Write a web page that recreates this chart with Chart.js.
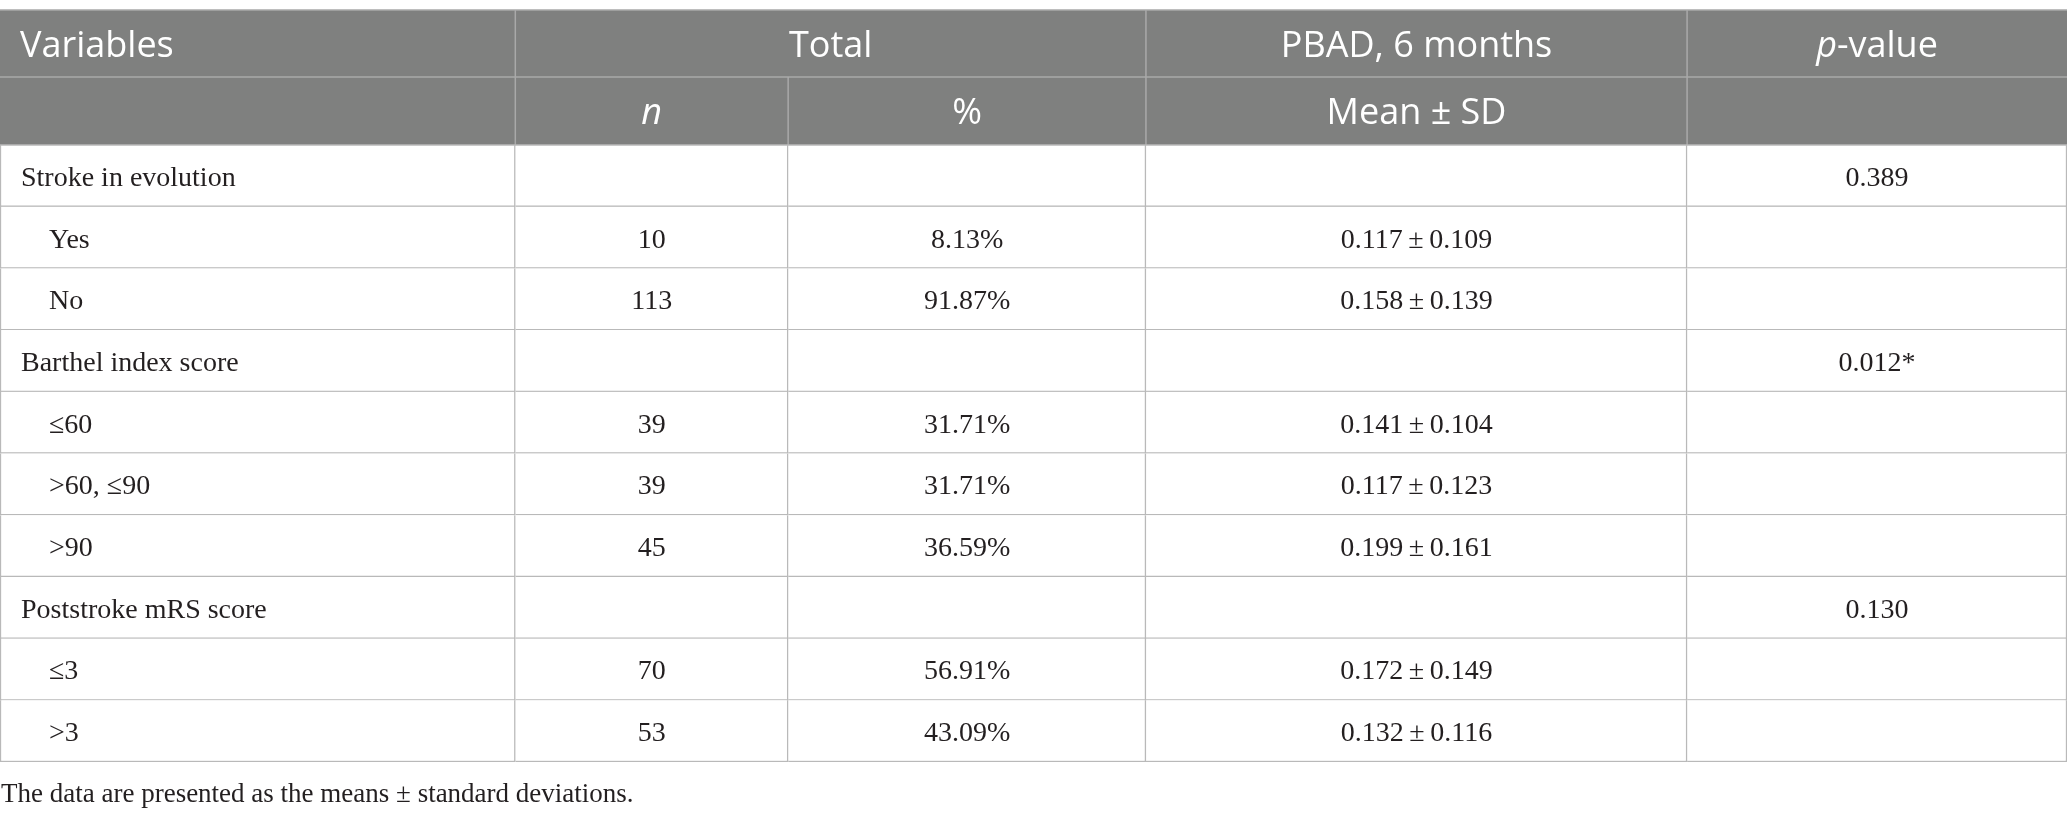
<!DOCTYPE html>
<html>
<head>
<meta charset="utf-8">
<script src="https://cdn.jsdelivr.net/npm/chart.js@4.4.1/dist/chart.umd.min.js"></script>
<style>
  html, body { margin: 0; padding: 0; background: #fff; }
  #wrap { width: 2067px; height: 818px; }
</style>
</head>
<body>
<div id="wrap"><canvas id="tbl" width="2067" height="818"></canvas></div>
<script>
// --- Table data ---
const variables = ['Stroke in evolution', 'Yes', 'No', 'Barthel index score', '≤60', '>60, ≤90', '>90',
                   'Poststroke mRS score', '≤3', '>3'];
const rowLevel = [0, 1, 1, 0, 1, 1, 1, 0, 1, 1];
const nValues = [null, 10, 113, null, 39, 39, 45, null, 70, 53];
const pctValues = [null, 8.13, 91.87, null, 31.71, 31.71, 36.59, null, 56.91, 43.09];
const pbadMean = [null, 0.117, 0.158, null, 0.141, 0.117, 0.199, null, 0.172, 0.132];
const pbadSD = [null, 0.109, 0.139, null, 0.104, 0.123, 0.161, null, 0.149, 0.116];
const pValueLabels = ['0.389', null, null, '0.012*', null, null, null, '0.130', null, null];
const headerTop = ['Variables', 'Total', 'PBAD, 6 months', 'p-value'];
const headerSub = ['', 'n', '%', 'Mean ± SD', ''];
const footnote = 'The data are presented as the means ± standard deviations.';

// layout (percent of table width), not data
const colEdges = [0, 24.93, 38.13, 55.44, 81.62, 100];
const HEAD_BG = '#7f807f';
const HEAD_LINE = '#a9a9a9';
const GRID = '#b9b9b9';
const TEXT = '#231f20';
const HEAD_FONT = '"Open Sans", sans-serif';
const BODY_FONT = '"Liberation Serif", serif';
const HEAD_SIZE = 36;
const BODY_SIZE = 28;
const NOTE_SIZE = 27;
const HEAD_H1 = 67, HEAD_H2 = 68;

const fmt = (v, d) => v == null ? '' : v.toFixed(d);
const cellText = [
  variables,
  nValues.map(v => v == null ? '' : String(v)),
  pctValues.map(v => v == null ? '' : v.toFixed(2) + '%'),
  pbadMean.map((m, i) => m == null ? '' : fmt(m, 3) + '\u2009±\u2009' + fmt(pbadSD[i], 3)),
  pValueLabels.map(v => v || '')
];

// draw mixed italic/regular runs centred (or left) at x
function drawRuns(ctx, runs, x, y, align) {
  let total = 0;
  runs.forEach(r => { ctx.font = r.font; r.w = ctx.measureText(r.text).width; total += r.w; });
  let cx = align === 'left' ? x : x - total / 2;
  ctx.textAlign = 'left';
  runs.forEach(r => { ctx.font = r.font; ctx.fillText(r.text, cx, y); cx += r.w; });
}

const tablePlugin = {
  id: 'tablePlugin',
  afterDatasetsDraw(chart) {
    const { ctx, chartArea, scales: { x, y } } = chart;
    const px = i => x.getPixelForValue(colEdges[i]);
    const top = chartArea.top - HEAD_H1 - HEAD_H2;
    const mid = top + HEAD_H1;
    ctx.save();

    // header block
    ctx.fillStyle = HEAD_BG;
    ctx.fillRect(px(0), top, px(5) - px(0), chartArea.top - top);
    ctx.strokeStyle = HEAD_LINE;
    ctx.lineWidth = 1.5;
    ctx.beginPath();
    ctx.moveTo(px(0), top); ctx.lineTo(px(5), top);
    ctx.moveTo(px(0), mid); ctx.lineTo(px(5), mid);
    [1, 3, 4].forEach(i => { ctx.moveTo(px(i), top); ctx.lineTo(px(i), chartArea.top); });
    ctx.moveTo(px(2), mid); ctx.lineTo(px(2), chartArea.top);
    ctx.stroke();
    ctx.strokeStyle = GRID;
    ctx.beginPath();
    ctx.moveTo(px(0), chartArea.top); ctx.lineTo(px(5), chartArea.top);
    ctx.stroke();

    // header text
    ctx.fillStyle = '#ffffff';
    ctx.textBaseline = 'alphabetic';
    const hReg = HEAD_SIZE + 'px ' + HEAD_FONT;
    const hIt = 'italic ' + HEAD_SIZE + 'px ' + HEAD_FONT;
    const y1 = top + 47, y2 = mid + 47;
    drawRuns(ctx, [{ text: headerTop[0], font: hReg }], px(0) + 20, y1, 'left');
    drawRuns(ctx, [{ text: headerTop[1], font: hReg }], (px(1) + px(3)) / 2, y1);
    drawRuns(ctx, [{ text: headerTop[2], font: hReg }], (px(3) + px(4)) / 2, y1);
    drawRuns(ctx, [{ text: 'p', font: hIt }, { text: headerTop[3].slice(1), font: hReg }], (px(4) + px(5)) / 2, y1);
    drawRuns(ctx, [{ text: headerSub[1], font: hIt }], (px(1) + px(2)) / 2, y2);
    drawRuns(ctx, [{ text: headerSub[2], font: hReg }], (px(2) + px(3)) / 2, y2);
    drawRuns(ctx, [{ text: headerSub[3], font: hReg }], (px(3) + px(4)) / 2, y2);

    // body text
    ctx.fillStyle = TEXT;
    ctx.font = BODY_SIZE + 'px ' + BODY_FONT;
    variables.forEach((v, r) => {
      const cy = y.getPixelForValue(r) + 10;
      ctx.textAlign = 'left';
      ctx.fillText(cellText[0][r], px(0) + (rowLevel[r] ? 49 : 21), cy);
      ctx.textAlign = 'center';
      for (let c = 1; c < 5; c++) {
        ctx.fillText(cellText[c][r], (px(c) + px(c + 1)) / 2, cy);
      }
    });

    // footnote
    ctx.textAlign = 'left';
    ctx.font = NOTE_SIZE + 'px ' + BODY_FONT;
    ctx.fillText(footnote, px(0) + 1, chartArea.bottom + 40);
    ctx.restore();
  }
};

const datasets = colEdges.slice(0, -1).map((e, ci) => ({
  label: 'col' + ci,
  data: variables.map(() => [colEdges[ci], colEdges[ci + 1]]),
  backgroundColor: '#ffffff',
  borderColor: GRID,
  borderWidth: { top: 0, right: 1.5, bottom: 1.5, left: ci === 0 ? 1.5 : 0 },
  borderSkipped: false,
  barPercentage: 1,
  categoryPercentage: 1,
  grouped: false
}));

new Chart(document.getElementById('tbl'), {
  type: 'bar',
  data: { labels: variables, datasets },
  plugins: [tablePlugin],
  options: {
    indexAxis: 'y',
    responsive: false,
    animation: false,
    devicePixelRatio: 1,
    layout: { padding: { top: 145, bottom: 56, left: 0, right: 0 } },
    scales: {
      x: { type: 'linear', min: 0, max: 100, display: false },
      y: { type: 'category', display: false, offset: true }
    },
    plugins: { legend: { display: false }, tooltip: { enabled: false } }
  }
});
</script>
</body>
</html>
